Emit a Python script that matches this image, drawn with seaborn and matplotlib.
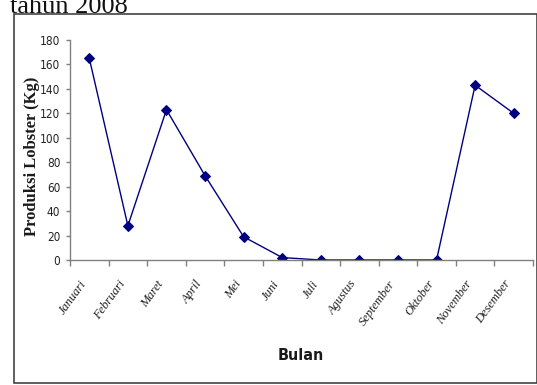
import numpy as np
import pandas as pd
import matplotlib
matplotlib.use("Agg")
import matplotlib.pyplot as plt
from matplotlib.patches import Rectangle
from matplotlib import font_manager
import seaborn as sns

bulan = ["Januari", "Februari", "Maret", "April", "Mei", "Juni", "Juli",
         "Agustus", "September", "Oktober", "November", "Desember"]
produksi = [165, 28, 123, 69, 19, 2, 0, 0, 0, 0, 143, 120]
y_ticks = [0, 20, 40, 60, 80, 100, 120, 140, 160, 180]

df = pd.DataFrame({"Bulan": bulan, "Produksi": produksi})

sns.set_style("white")
serif = ["Liberation Serif", "DejaVu Serif"]

# condensed sans for the numeric ticks and the axis title
cond = [f for f in font_manager.fontManager.ttflist
        if f.name == "DejaVu Sans" and f.stretch in ("condensed", 600, "semi-condensed")]
narrow_kw = dict(family="DejaVu Sans", stretch="condensed") if cond else dict(family="Liberation Sans")

W, H = 537, 385
fig = plt.figure(figsize=(W / 100, H / 100), dpi=100)
ax = fig.add_axes([70 / W, (H - 260) / H, (533 - 70) / W, 220 / H])

sns.lineplot(data=df, x="Bulan", y="Produksi", sort=False, ax=ax,
             color="#000080", linewidth=1.0, marker="D", markersize=5,
             markeredgecolor="#000080", markerfacecolor="#000080")

ax.set_xlim(-0.5, len(bulan) - 0.5)
ax.set_ylim(0, 180)
ax.set_yticks(y_ticks)
ax.set_yticklabels([str(v) for v in y_ticks], fontsize=8.5, color="#222222",
                   **narrow_kw)

ax.set_xticks(np.arange(-0.5, len(bulan), 1.0))
ax.set_xticklabels([])
ax.set_xticks(np.arange(len(bulan)), minor=True)
ax.set_xticklabels(bulan, minor=True, rotation=54, ha="right", va="top",
                   family=serif, style="italic", fontsize=9, color="#222222")

for side in ["top", "right"]:
    ax.spines[side].set_visible(False)
for side in ["left", "bottom"]:
    ax.spines[side].set_color("#808080")
    ax.spines[side].set_linewidth(1.0)

ax.tick_params(axis="y", which="major", direction="out", length=3,
               color="#808080", width=1.0, pad=4, left=True)
ax.tick_params(axis="x", which="major", direction="out", length=4,
               color="#808080", width=1.0, bottom=True)
ax.tick_params(axis="x", which="minor", length=0, pad=13, bottom=True)

ax.set_xlabel("Bulan", fontweight="bold", fontsize=11.5, color="#1a1a1a",
              **narrow_kw)
ax.xaxis.set_label_coords((300.7 - 70) / (533 - 70), (260 - 356) / 220)
ax.xaxis.label.set_va("center")
ax.set_ylabel("Produksi Lobster (Kg)", family=serif, fontweight="bold",
              fontsize=12, color="#1a1a1a")
ax.yaxis.set_label_coords((32.5 - 70) / (533 - 70), (260 - 156) / 220)
ax.yaxis.label.set_va("center")

fig.patches.append(Rectangle((13.5 / W, (H - 382.7) / H),
                             (536.5 - 13.5) / W, (382.7 - 13.7) / H,
                             transform=fig.transFigure, fill=False,
                             edgecolor="#333333", linewidth=1.1))
fig.text(10 / W, (H - 12.7) / H, "tahun 2008", family=serif, fontsize=19,
         va="baseline", ha="left", color="#111111")

fig.savefig("out.png", dpi=100)
